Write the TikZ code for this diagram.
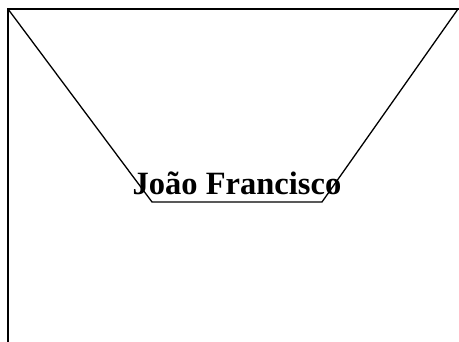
\documentclass[tikz,border=0pt]{standalone}
\usepackage{fontspec}
\setmainfont{Liberation Serif}
\tikzset{edge/.style={draw, line width=1.3pt},
  namelabel/.style={font=\bfseries\fontsize{32.5}{38}\selectfont, inner sep=0pt, anchor=base}}
\begin{document}
\begin{tikzpicture}[x=1pt, y=-1pt]
\useasboundingbox (0,0) rectangle (459,342);
\coordinate (tl) at (8,9);
\coordinate (tr) at (459,9);
\coordinate (bl) at (8,342);
\coordinate (kl) at (152,202);
\coordinate (kr) at (322,202);
\coordinate (er) at (458,9);
\draw[edge] (tr) -- (tl) -- (bl);
\draw[edge] (tl) -- (kl) -- (kr) -- (er);
\node[namelabel] (nome) at (237,195) {João Francisco};
\end{tikzpicture}
\end{document}
